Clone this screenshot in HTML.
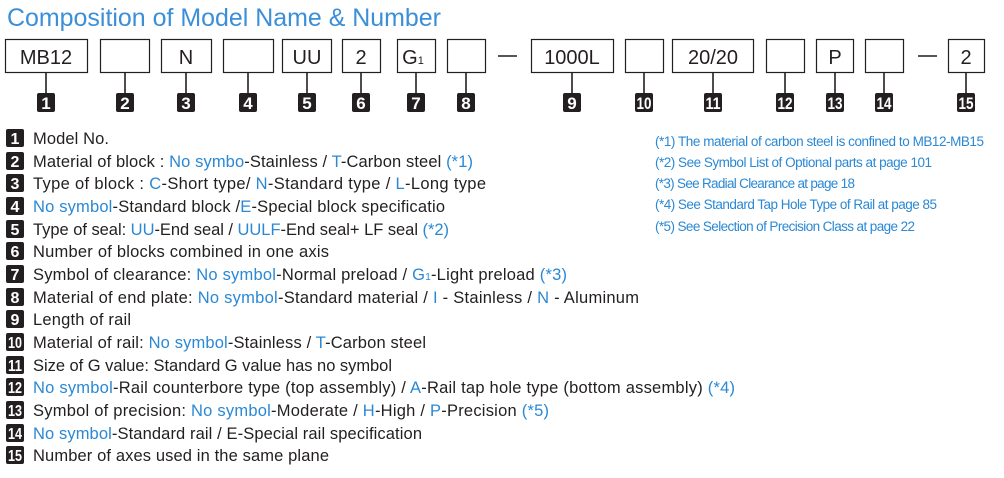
<!DOCTYPE html>
<html><head><meta charset="utf-8"><style>
html,body{margin:0;padding:0;background:#fff;}
svg{display:block;font-family:"Liberation Sans",sans-serif;}
</style></head><body>
<svg width="1004" height="478" viewBox="0 0 1004 478" xmlns="http://www.w3.org/2000/svg">
<text x="7" y="26" font-size="25" fill="#3b8fd9" textLength="434" lengthAdjust="spacingAndGlyphs">Composition of Model Name &amp; Number</text>
<g fill="#fff" stroke="#231f20" stroke-width="1.2">
<rect x="5.5" y="39.5" width="82" height="33"/>
<rect x="100.5" y="39.5" width="49" height="33"/>
<rect x="161.5" y="39.5" width="50" height="33"/>
<rect x="223.5" y="39.5" width="50" height="33"/>
<rect x="282.5" y="39.5" width="49" height="33"/>
<rect x="342.5" y="39.5" width="38" height="33"/>
<rect x="397.5" y="39.5" width="38" height="33"/>
<rect x="447.5" y="39.5" width="38" height="33"/>
<rect x="531.5" y="39.5" width="82" height="33"/>
<rect x="625.5" y="39.5" width="38" height="33"/>
<rect x="672.5" y="39.5" width="81" height="33"/>
<rect x="766.5" y="39.5" width="38" height="33"/>
<rect x="816.5" y="39.5" width="37" height="33"/>
<rect x="865.5" y="39.5" width="38" height="33"/>
<rect x="948.5" y="39.5" width="36" height="33"/>
</g>
<g stroke="#231f20" stroke-width="1.6">
<line x1="498" y1="56" x2="517" y2="56"/><line x1="918" y1="56" x2="937" y2="56"/>
<line x1="46" y1="73" x2="46" y2="94"/><line x1="125" y1="73" x2="125" y2="94"/>
<line x1="186" y1="73" x2="186" y2="94"/><line x1="248" y1="73" x2="248" y2="94"/>
<line x1="307" y1="73" x2="307" y2="94"/><line x1="361" y1="73" x2="361" y2="94"/>
<line x1="416" y1="73" x2="416" y2="94"/><line x1="466" y1="73" x2="466" y2="94"/>
<line x1="572" y1="73" x2="572" y2="94"/><line x1="644" y1="73" x2="644" y2="94"/>
<line x1="713" y1="73" x2="713" y2="94"/><line x1="785" y1="73" x2="785" y2="94"/>
<line x1="835" y1="73" x2="835" y2="94"/><line x1="884" y1="73" x2="884" y2="94"/>
<line x1="966" y1="73" x2="966" y2="94"/>
</g>
<g font-size="20" fill="#231f20" text-anchor="middle">
<text x="46" y="64">MB12</text><text x="186" y="64">N</text><text x="307" y="64">UU</text>
<text x="361" y="64">2</text><text x="413" y="64">G<tspan font-size="11">1</tspan></text>
<text x="572" y="64">1000L</text><text x="713" y="64">20/20</text><text x="835" y="64">P</text><text x="966" y="64">2</text>
</g>
<g fill="#231f20">
<rect x="37" y="93" width="18" height="19" rx="2"/><rect x="116" y="93" width="18" height="19" rx="2"/>
<rect x="177" y="93" width="18" height="19" rx="2"/><rect x="239" y="93" width="18" height="19" rx="2"/>
<rect x="298" y="93" width="18" height="19" rx="2"/><rect x="352" y="93" width="18" height="19" rx="2"/>
<rect x="407" y="93" width="18" height="19" rx="2"/><rect x="457" y="93" width="18" height="19" rx="2"/>
<rect x="563" y="93" width="18" height="19" rx="2"/><rect x="635" y="93" width="18" height="19" rx="2"/>
<rect x="704" y="93" width="18" height="19" rx="2"/><rect x="776" y="93" width="18" height="19" rx="2"/>
<rect x="826" y="93" width="18" height="19" rx="2"/><rect x="875" y="93" width="18" height="19" rx="2"/>
<rect x="957" y="93" width="18" height="19" rx="2"/>
</g>
<g fill="#fff" font-size="17" font-weight="bold" text-anchor="middle">
<text x="46" y="109">1</text><text x="125" y="109">2</text><text x="186" y="109">3</text><text x="248" y="109">4</text>
<text x="307" y="109">5</text><text x="361" y="109">6</text><text x="416" y="109">7</text><text x="466" y="109">8</text>
<text x="572" y="109">9</text>
<text x="644" y="109" textLength="15" lengthAdjust="spacingAndGlyphs">10</text>
<text x="713" y="109" textLength="15" lengthAdjust="spacingAndGlyphs">11</text>
<text x="785" y="109" textLength="15" lengthAdjust="spacingAndGlyphs">12</text>
<text x="835" y="109" textLength="15" lengthAdjust="spacingAndGlyphs">13</text>
<text x="884" y="109" textLength="15" lengthAdjust="spacingAndGlyphs">14</text>
<text x="966" y="109" textLength="15" lengthAdjust="spacingAndGlyphs">15</text>
</g>
<g fill="#231f20">
<rect x="6" y="129" width="18" height="18" rx="2"/><rect x="6" y="152" width="18" height="18" rx="2"/>
<rect x="6" y="174" width="18" height="18" rx="2"/><rect x="6" y="197" width="18" height="18" rx="2"/>
<rect x="6" y="220" width="18" height="18" rx="2"/><rect x="6" y="242" width="18" height="18" rx="2"/>
<rect x="6" y="265" width="18" height="18" rx="2"/><rect x="6" y="288" width="18" height="18" rx="2"/>
<rect x="6" y="310" width="18" height="18" rx="2"/><rect x="6" y="333" width="18" height="18" rx="2"/>
<rect x="6" y="356" width="18" height="18" rx="2"/><rect x="6" y="378" width="18" height="18" rx="2"/>
<rect x="6" y="401" width="18" height="18" rx="2"/><rect x="6" y="424" width="18" height="18" rx="2"/>
<rect x="6" y="446" width="18" height="18" rx="2"/>
</g>
<g fill="#fff" font-size="16" font-weight="bold" text-anchor="middle">
<text x="15" y="144">1</text><text x="15" y="167">2</text><text x="15" y="189">3</text><text x="15" y="212">4</text>
<text x="15" y="235">5</text><text x="15" y="257">6</text><text x="15" y="280">7</text><text x="15" y="303">8</text>
<text x="15" y="325">9</text>
<text x="15" y="348" textLength="14" lengthAdjust="spacingAndGlyphs">10</text>
<text x="15" y="371" textLength="14" lengthAdjust="spacingAndGlyphs">11</text>
<text x="15" y="393" textLength="14" lengthAdjust="spacingAndGlyphs">12</text>
<text x="15" y="416" textLength="14" lengthAdjust="spacingAndGlyphs">13</text>
<text x="15" y="439" textLength="14" lengthAdjust="spacingAndGlyphs">14</text>
<text x="15" y="461" textLength="14" lengthAdjust="spacingAndGlyphs">15</text>
</g>
<g font-size="16.5" fill="#231f20" lengthAdjust="spacingAndGlyphs">
<text x="33" y="144" textLength="76">Model No.</text>
<text x="33" y="167" textLength="440">Material of block : <tspan fill="#2a88d4">No symbo</tspan>-Stainless / <tspan fill="#2a88d4">T</tspan>-Carbon steel <tspan fill="#2a88d4">(*1)</tspan></text>
<text x="33" y="189" textLength="453">Type of block : <tspan fill="#2a88d4">C</tspan>-Short type/ <tspan fill="#2a88d4">N</tspan>-Standard type / <tspan fill="#2a88d4">L</tspan>-Long type</text>
<text x="33" y="212" textLength="412"><tspan fill="#2a88d4">No symbol</tspan>-Standard block /<tspan fill="#2a88d4">E</tspan>-Special block specificatio</text>
<text x="33" y="235" textLength="416">Type of seal: <tspan fill="#2a88d4">UU</tspan>-End seal / <tspan fill="#2a88d4">UULF</tspan>-End seal+ LF seal <tspan fill="#2a88d4">(*2)</tspan></text>
<text x="33" y="257" textLength="296">Number of blocks combined in one axis</text>
<text x="33" y="280" textLength="534">Symbol of clearance: <tspan fill="#2a88d4">No symbol</tspan>-Normal preload / <tspan fill="#2a88d4">G<tspan font-size="10">1</tspan></tspan>-Light preload <tspan fill="#2a88d4">(*3)</tspan></text>
<text x="33" y="303" textLength="606">Material of end plate: <tspan fill="#2a88d4">No symbol</tspan>-Standard material / <tspan fill="#2a88d4">I</tspan> - Stainless / <tspan fill="#2a88d4">N</tspan> - Aluminum</text>
<text x="33" y="325" textLength="98">Length of rail</text>
<text x="33" y="348" textLength="393">Material of rail: <tspan fill="#2a88d4">No symbol</tspan>-Stainless / <tspan fill="#2a88d4">T</tspan>-Carbon steel</text>
<text x="33" y="371" textLength="359">Size of G value: Standard G value has no symbol</text>
<text x="33" y="393" textLength="702"><tspan fill="#2a88d4">No symbol</tspan>-Rail counterbore type (top assembly) / <tspan fill="#2a88d4">A</tspan>-Rail tap hole type (bottom assembly) <tspan fill="#2a88d4">(*4)</tspan></text>
<text x="33" y="416" textLength="516">Symbol of precision: <tspan fill="#2a88d4">No symbol</tspan>-Moderate / <tspan fill="#2a88d4">H</tspan>-High / <tspan fill="#2a88d4">P</tspan>-Precision <tspan fill="#2a88d4">(*5)</tspan></text>
<text x="33" y="439" textLength="389"><tspan fill="#2a88d4">No symbol</tspan>-Standard rail / E-Special rail specification</text>
<text x="33" y="461" textLength="296">Number of axes used in the same plane</text>
</g>
<g font-size="13.5" fill="#2a88d4" lengthAdjust="spacingAndGlyphs">
<text x="655" y="146" textLength="329">(*1) The material of carbon steel is confined to MB12-MB15</text>
<text x="655" y="167" textLength="277">(*2) See Symbol List of Optional parts at page 101</text>
<text x="655" y="188" textLength="200">(*3) See Radial Clearance at page 18</text>
<text x="655" y="209" textLength="282">(*4) See Standard Tap Hole Type of Rail at page 85</text>
<text x="655" y="231" textLength="260">(*5) See Selection of Precision Class at page 22</text>
</g>
</svg>
</body></html>
